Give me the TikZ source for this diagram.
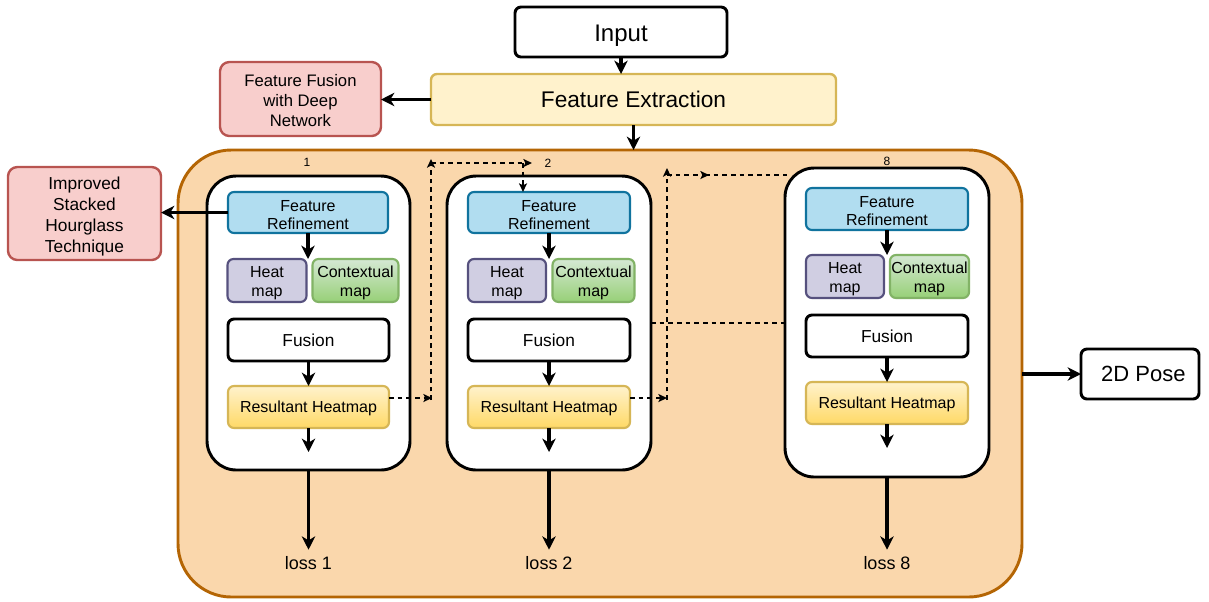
\documentclass[tikz,border=0pt]{standalone}
\usepackage{fontspec}
\setmainfont{Liberation Sans}
\usetikzlibrary{arrows.meta}
\newcommand{\pxu}{0.75pt}
\newcommand{\dnstrut}[1]{\rule{0pt}{#1}}
\definecolor{fefill}{HTML}{FFF2CC}
\definecolor{fedraw}{HTML}{D6B656}
\definecolor{redfill}{HTML}{F8CECC}
\definecolor{reddraw}{HTML}{B85450}
\definecolor{contfill}{HTML}{FAD7AC}
\definecolor{contdraw}{HTML}{B46504}
\definecolor{frfill}{HTML}{B1DDF0}
\definecolor{frdraw}{HTML}{10739E}
\definecolor{hmfill}{HTML}{D0CEE2}
\definecolor{hmdraw}{HTML}{56517E}
\definecolor{cmtop}{HTML}{D5E8D4}
\definecolor{cmbot}{HTML}{97D077}
\definecolor{cmdraw}{HTML}{82B366}
\definecolor{rhtop}{HTML}{FFF2CC}
\definecolor{rhbot}{HTML}{FFD966}
\definecolor{rhdraw}{HTML}{D6B656}
\begin{document}
\begin{tikzpicture}[x=0.75pt,y=-0.75pt,
  every node/.style={inner sep=0pt, outer sep=0pt, align=center},
  wbox/.style={draw=black, fill=white, line width=2.2pt, rounded corners=4.5pt},
  febox/.style={draw=fedraw, fill=fefill, line width=1.8pt, rounded corners=4.5pt},
  redbox/.style={draw=reddraw, fill=redfill, line width=1.8pt, rounded corners=7pt, font=\fontsize{12.5}{15}\selectfont},
  contbox/.style={draw=contdraw, fill=contfill, line width=2.2pt, rounded corners=40pt},
  modbox/.style={draw=black, fill=white, line width=2.2pt, rounded corners=22pt},
  frbox/.style={draw=frdraw, fill=frfill, line width=1.6pt, rounded corners=4.5pt, font=\fontsize{12}{13.5}\selectfont},
  hmbox/.style={draw=hmdraw, fill=hmfill, line width=1.6pt, rounded corners=4.5pt, font=\fontsize{12}{14.25}\selectfont},
  cmbox/.style={draw=cmdraw, top color=cmtop, bottom color=cmbot, line width=1.6pt, rounded corners=4.5pt, font=\fontsize{12}{14.25}\selectfont},
  fubox/.style={draw=black, fill=white, line width=2.2pt, rounded corners=4.5pt, font=\fontsize{13}{15}\selectfont},
  rhbox/.style={draw=rhdraw, top color=rhtop, bottom color=rhbot, line width=1.6pt, rounded corners=4.5pt, font=\fontsize{12}{14}\selectfont},
  losslbl/.style={font=\fontsize{13.5}{15}\selectfont, inner sep=5pt},
  numlbl/.style={font=\fontsize{9}{10}\selectfont},
  arr/.style={line width=2.3pt, -{Stealth[length=10pt,width=10pt,inset=3pt]}},
  dsh/.style={line width=1.2pt, dash pattern=on 3.5pt off 3pt, -{Stealth[length=6.5pt,width=6pt,inset=1.5pt]}},
  dshline/.style={line width=1.2pt, dash pattern=on 3.5pt off 3pt}
]
\useasboundingbox (0,0) rectangle (1209,601);

% top
\node[wbox, minimum width=212*\pxu, minimum height=50*\pxu, font=\fontsize{18}{20}\selectfont] (input) at (621,32) {\dnstrut{18.5pt}Input};
\node[febox, minimum width=405*\pxu, minimum height=51*\pxu, font=\fontsize{17}{20}\selectfont] (fe) at (633.5,99.5) {Feature Extraction};
\node[redbox, minimum width=161*\pxu, minimum height=74*\pxu] (ffd) at (300.5,99) {\dnstrut{12pt}Feature Fusion\\with Deep\\Network};

% container
\node[contbox, minimum width=844*\pxu, minimum height=447*\pxu] (cont) at (600,373.5) {};
\node[redbox, minimum width=153*\pxu, minimum height=93*\pxu, font=\fontsize{13}{15.75}\selectfont] (ish) at (84.5,213.5) {\dnstrut{14pt}Improved\\Stacked\\Hourglass\\Technique};
\node[wbox, minimum width=118*\pxu, minimum height=50*\pxu, font=\fontsize{16.5}{18}\selectfont] (pose) at (1140,374) {\hspace*{5pt}2D Pose};

% modules
\node[modbox, minimum width=203*\pxu, minimum height=294*\pxu] (m1) at (308.5,323) {};
\node[modbox, minimum width=204*\pxu, minimum height=294*\pxu] (m2) at (549,323) {};
\node[modbox, minimum width=204*\pxu, minimum height=309*\pxu] (m8) at (887,322.5) {};

\node[numlbl] (n1) at (307,162) {1};
\node[numlbl] (n2) at (548,163) {2};
\node[numlbl] (n8) at (887,161) {8};

% module 1
\node[frbox, minimum width=160*\pxu, minimum height=41*\pxu] (fr1) at (308,212.5) {\dnstrut{11.6pt}Feature\\Refinement};
\node[hmbox, minimum width=79*\pxu, minimum height=43*\pxu] (hm1) at (267,280.5) {\dnstrut{12.5pt}Heat\\map};
\node[cmbox, minimum width=86*\pxu, minimum height=43*\pxu] (cm1) at (355.5,280.5) {\dnstrut{11.8pt}Contextual\\map};
\node[fubox, minimum width=161*\pxu, minimum height=42*\pxu] (fu1) at (308.5,340) {Fusion};
\node[rhbox, minimum width=161*\pxu, minimum height=42*\pxu] (rh1) at (308.5,407) {\dnstrut{11.4pt}Resultant Heatmap};
\coordinate (e1) at (308.5,452);
\node[losslbl] (loss1) at (308.5,563) {loss 1};

% module 2
\node[frbox, minimum width=162*\pxu, minimum height=41*\pxu] (fr2) at (549,212.5) {\dnstrut{11.6pt}Feature\\Refinement};
\node[hmbox, minimum width=78*\pxu, minimum height=43*\pxu] (hm2) at (507,280.5) {\dnstrut{12.5pt}Heat\\map};
\node[cmbox, minimum width=82*\pxu, minimum height=43*\pxu] (cm2) at (593.5,280.5) {\dnstrut{11.8pt}Contextual\\map};
\node[fubox, minimum width=162*\pxu, minimum height=42*\pxu] (fu2) at (549,340) {Fusion};
\node[rhbox, minimum width=162*\pxu, minimum height=42*\pxu] (rh2) at (549,407) {\dnstrut{11.4pt}Resultant Heatmap};
\coordinate (e2) at (549,452);
\node[losslbl] (loss2) at (549,563) {loss 2};

% module 8
\node[frbox, minimum width=162*\pxu, minimum height=42*\pxu] (fr8) at (887,209) {\dnstrut{11.6pt}Feature\\Refinement};
\node[hmbox, minimum width=78*\pxu, minimum height=43*\pxu] (hm8) at (845,276.5) {\dnstrut{12.5pt}Heat\\map};
\node[cmbox, minimum width=79*\pxu, minimum height=43*\pxu] (cm8) at (929.5,276.5) {\dnstrut{11.8pt}Contextual\\map};
\node[fubox, minimum width=162*\pxu, minimum height=42*\pxu] (fu8) at (887,336) {Fusion};
\node[rhbox, minimum width=162*\pxu, minimum height=42*\pxu] (rh8) at (887,403) {\dnstrut{11.4pt}Resultant Heatmap};
\coordinate (e8) at (887,448);
\node[losslbl] (loss8) at (887,563) {loss 8};

% solid arrows
\draw[arr] (input.south) -- (input.south |- fe.north);
\draw[arr] (fe.west) -- (fe.west -| ffd.east);
\draw[arr] (fe.south) -- (fe.south |- cont.north);
\draw[arr] (fr1.west) -- (fr1.west -| ish.east);
\draw[arr] (cont.east |- pose.west) -- (pose.west);
\foreach \i in {1,2,8}{
  \draw[arr] (fr\i.south) -- (fr\i.south |- hm\i.north);
  \draw[arr] (fu\i.south) -- (rh\i.north);
  \draw[arr] (rh\i.south) -- (e\i);
  \draw[arr] (m\i.south) -- (loss\i.north);
}

% dashed connectors, 1 -> 2
\coordinate (a1) at (432,398);
\coordinate (a0) at (431,400);
\coordinate (a2) at (431,159);
\coordinate (a5) at (431,163);
\coordinate (a3) at (532,163);
\coordinate (a4) at (523,163);
\draw[dsh] (rh1.east |- a1) -- (a1);
\draw[dsh] (a0) -- (a2);
\draw[dsh] (a5) -- (a3);
\draw[dsh] (a4) -- (a4 |- fr2.north);

% dashed connectors, 2 -> 8
\coordinate (b1) at (667,398);
\coordinate (b0) at (667,400);
\coordinate (b2) at (667,168);
\coordinate (b5) at (667,175);
\coordinate (b3) at (709,175);
\coordinate (b4) at (705,175);
\coordinate (b6) at (787,175);
\coordinate (h8) at (787,323);
\draw[dsh] (rh2.east |- b1) -- (b1);
\draw[dsh] (b0) -- (b2);
\draw[dsh] (b5) -- (b3);
\draw[dshline] (b4) -- (b6);
\draw[dshline] (m2.east |- h8) -- (m8.west |- h8);
\end{tikzpicture}
\end{document}
